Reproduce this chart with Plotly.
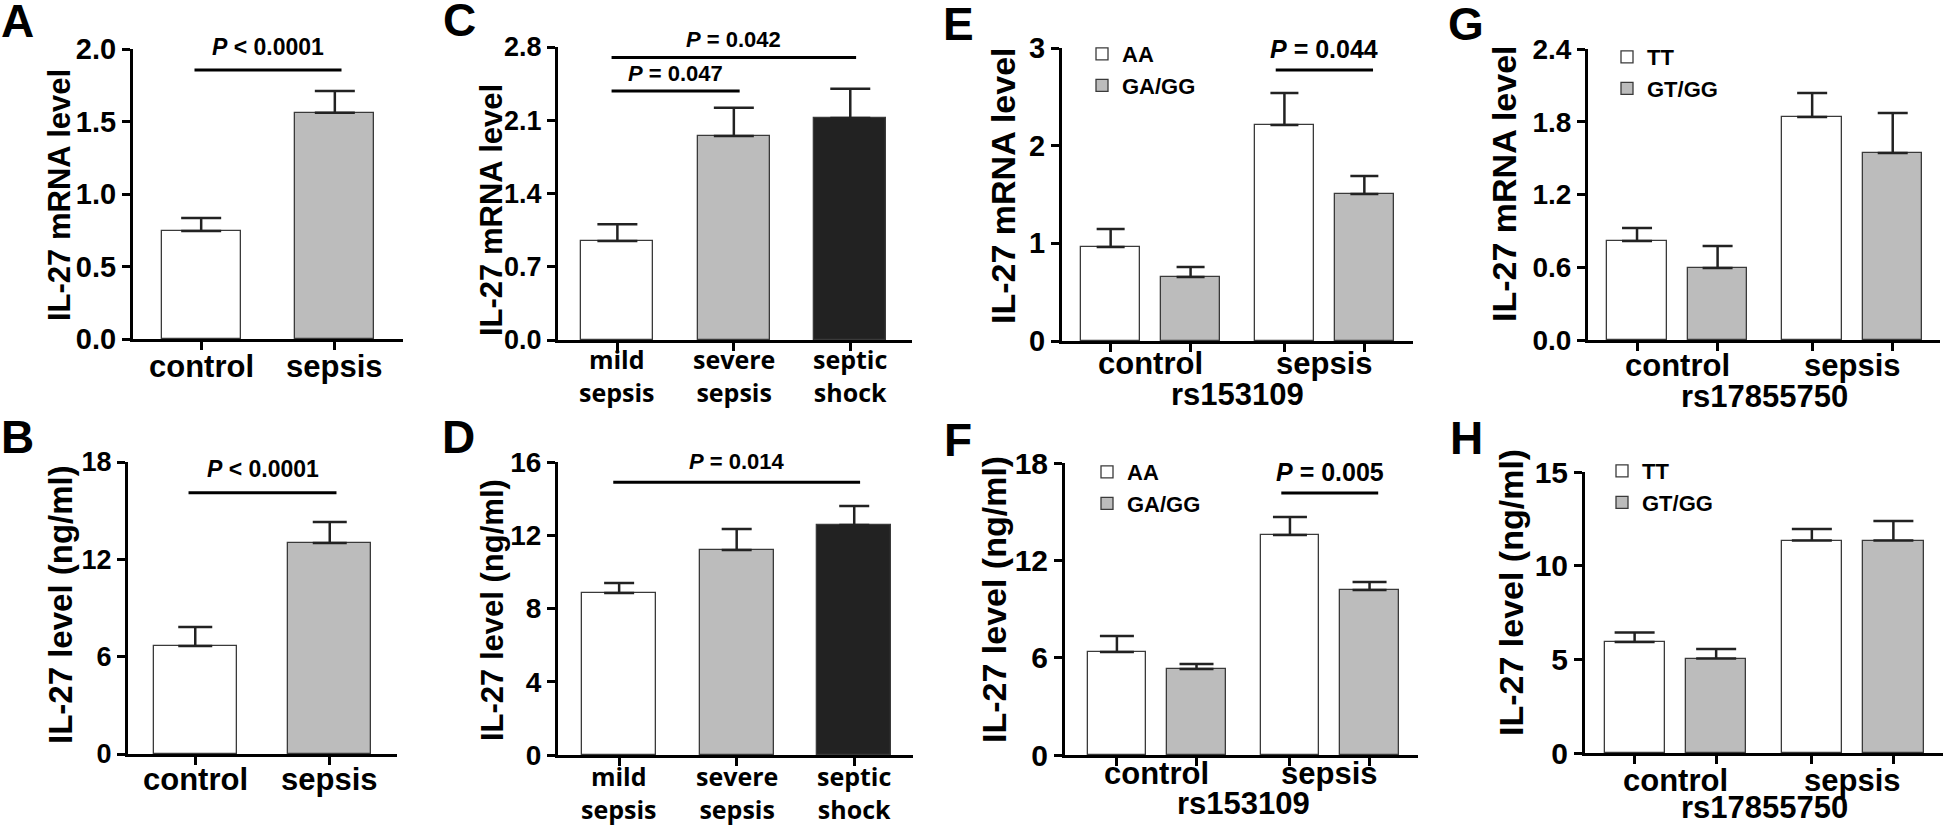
import plotly.graph_objects as go

W, H = 1946, 825
ARIAL = "Liberation Sans, Arial, sans-serif"
SEGOE = "Open Sans, DejaVu Sans, sans-serif"
WHITE, GREY, DARK = "#ffffff", "#bcbcbc", "#222222"

# ---- data ----
two_groups = ["control", "sepsis"]
severity = ["mild<br>sepsis", "severe<br>sepsis", "septic<br>shock"]

a_mean = [0.745, 1.56]
a_sem = [0.09, 0.15]
b_mean = [6.66, 13.0]
b_sem = [1.17, 1.30]
c_mean = [0.946, 1.949, 2.121]
c_sem = [0.16, 0.27, 0.28]
d_mean = [8.85, 11.19, 12.56]
d_sem = [0.54, 1.15, 1.04]

rs153109_geno = ["AA", "GA/GG"]
e_aa_mean = [0.962, 2.212]
e_aa_sem = [0.185, 0.327]
e_ga_mean = [0.655, 1.505]
e_ga_sem = [0.102, 0.185]
f_aa_mean = [6.35, 13.56]
f_aa_sem = [0.99, 1.11]
f_ga_mean = [5.30, 10.17]
f_ga_sem = [0.31, 0.49]

rs17855750_geno = ["TT", "GT/GG"]
g_tt_mean = [0.816, 1.839]
g_tt_sem = [0.108, 0.198]
g_gt_mean = [0.594, 1.542]
g_gt_sem = [0.181, 0.330]
h_tt_mean = [5.92, 11.34]
h_tt_sem = [0.51, 0.62]
h_gt_mean = [5.04, 11.34]
h_gt_sem = [0.51, 1.04]

# significance brackets: (label, from category, to category, height)
a_sig = [("<i>P</i> &lt; 0.0001", 0, 1, 1.855)]
b_sig = [("<i>P</i> &lt; 0.0001", 0, 1, 16.1)]
c_sig = [("<i>P</i> = 0.047", 0, 1, 2.38), ("<i>P</i> = 0.042", 0, 2, 2.70)]
d_sig = [("<i>P</i> = 0.014", 0, 2, 14.9)]
e_sig = [("<i>P</i> = 0.044", 0.77, 1.23, 2.775)]
f_sig = [("<i>P</i> = 0.005", 0.77, 1.23, 16.15)]

fig = go.Figure()
annotations = []


def axis_names(n):
    return ("x" if n == 1 else f"x{n}"), ("y" if n == 1 else f"y{n}")


def bold(family, size):
    return dict(family=family, size=size, color="black", weight="bold")


def setup_axes(n, box, xr, ymax, dtick, fmt, tick_size):
    x0, x1, ytop, ybot = box
    common = dict(showgrid=False, zeroline=False, showline=True, linecolor="black", automargin=False,
                  linewidth=3, ticks="outside", ticklen=8, tickwidth=3, tickcolor="black")
    fig.layout[f"xaxis{n}"] = dict(domain=[x0 / W, x1 / W], range=list(xr), showticklabels=False,
                                   anchor=axis_names(n)[1], **common)
    fig.layout[f"yaxis{n}"] = dict(domain=[1 - ybot / H, 1 - ytop / H], range=[0, ymax],
                                   anchor=axis_names(n)[0], dtick=dtick, tickformat=fmt,
                                   tickfont=bold(ARIAL, tick_size), **common)


def err(sem, cap):
    return dict(type="data", array=sem, arrayminus=[0] * len(sem), symmetric=False,
                width=cap, thickness=2.5, color=DARK)


def add_brackets(n, sigs, size, gap):
    xa, ya = axis_names(n)
    for label, c0, c1, yv in sigs:
        fig.add_trace(go.Scatter(x=[c0 - 0.05, c1 + 0.05], y=[yv, yv], mode="lines",
                                 line=dict(color="black", width=3), xaxis=xa, yaxis=ya,
                                 showlegend=False, hoverinfo="skip"))
        annotations.append(dict(x=(c0 + c1) / 2, y=yv, xref=xa, yref=ya, text=label,
                                showarrow=False, yanchor="bottom", yshift=gap, font=bold(ARIAL, size)))


def add_label(n, x, text, shift, font):
    xa, ya = axis_names(n)
    annotations.append(dict(x=x, y=0, xref=xa, yref=f"{ya} domain", text=text, showarrow=False,
                            xanchor="center", yanchor="middle", yshift=shift, font=font))


def add_title(text, xy, size):
    annotations.append(dict(x=xy[0] / W, y=1 - xy[1] / H, xref="paper", yref="paper", text=text,
                            textangle=-90, showarrow=False, xanchor="center", yanchor="middle",
                            font=bold(ARIAL, size)))


def add_letter(text, xy):
    annotations.append(dict(x=xy[0] / W, y=1 - xy[1] / H, xref="paper", yref="paper", text=text,
                            showarrow=False, xanchor="center", yanchor="middle", font=bold(ARIAL, 46)))


def single_panel(n, mean, sem, colors, width, cap):
    xa, ya = axis_names(n)
    pos = list(range(len(mean)))
    fig.add_trace(go.Bar(x=pos, y=mean, width=width, xaxis=xa, yaxis=ya, showlegend=False,
                         marker=dict(color=colors, line=dict(color="#3a3a3a", width=1.3)),
                         error_y=err(sem, cap)))
    fig.layout[f"xaxis{n}"].update(tickvals=pos)


def grouped_panel(n, genos, s1_mean, s1_sem, s2_mean, s2_sem, cap, legend, snp, shifts):
    xa, ya = axis_names(n)
    groups = list(range(len(two_groups)))
    pos1 = [g - 0.23 for g in groups]
    pos2 = [g + 0.23 for g in groups]
    for name, pos, mean, sem, col in [(genos[0], pos1, s1_mean, s1_sem, WHITE),
                                      (genos[1], pos2, s2_mean, s2_sem, GREY)]:
        fig.add_trace(go.Bar(x=pos, y=mean, width=0.34, name=name, xaxis=xa, yaxis=ya,
                             legend=legend,
                             marker=dict(color=col, line=dict(color="#3a3a3a", width=1.3)),
                             error_y=err(sem, cap)))
    fig.layout[f"xaxis{n}"].update(tickvals=sorted(pos1 + pos2))
    for g, name in zip(groups, two_groups):
        add_label(n, g, name, shifts[0], bold(ARIAL, 31))
    add_label(n, 0.5, snp, shifts[1], bold(ARIAL, 31))


# A
setup_axes(1, (133, 403, 49, 339), (-0.51, 1.51), 2.0, 0.5, ".1f", 29)
single_panel(1, a_mean, a_sem, [WHITE, GREY], 0.59, 20)
for i, name in enumerate(two_groups):
    add_label(1, i, name, -27, bold(ARIAL, 31))
add_brackets(1, a_sig, 23, 8)
add_title("IL-27 mRNA level", (60, 195), 31)
add_letter("A", (17, 21))

# B
setup_axes(2, (128, 397, 462, 754), (-0.5, 1.5), 18, 6, "d", 27)
single_panel(2, b_mean, b_sem, [WHITE, GREY], 0.62, 17)
for i, name in enumerate(two_groups):
    add_label(2, i, name, -25, bold(ARIAL, 31))
add_brackets(2, b_sig, 23, 9)
add_title("IL-27 level (ng/ml)", (60, 605), 33)
add_letter("B", (17, 437))

# C
setup_axes(3, (558, 912, 47, 340), (-0.51, 2.53), 2.8, 0.7, ".1f", 27)
single_panel(3, c_mean, c_sem, [WHITE, GREY, DARK], 0.62, 20)
for i, name in enumerate(severity):
    add_label(3, i, name, -35, bold(SEGOE, 25))
add_brackets(3, c_sig, 22, 3)
add_title("IL-27 mRNA level", (492, 210), 31)
add_letter("C", (459, 20))

# D
setup_axes(4, (558, 913, 462, 755), (-0.52, 2.5), 16, 4, "d", 28)
single_panel(4, d_mean, d_sem, [WHITE, GREY, DARK], 0.63, 15)
for i, name in enumerate(severity):
    add_label(4, i, name, -37, bold(SEGOE, 25))
add_brackets(4, d_sig, 22, 6)
add_title("IL-27 level (ng/ml)", (492, 610), 31)
add_letter("D", (458, 437))

# E
setup_axes(5, (1062, 1413, 48, 341), (-0.51, 1.51), 3, 1, "d", 29)
grouped_panel(5, rs153109_geno, e_aa_mean, e_aa_sem, e_ga_mean, e_ga_sem, 14, "legend",
              "rs153109", (-22, -53))
add_brackets(5, e_sig, 25, 5)
add_title("IL-27 mRNA level", (1003, 185), 34)
add_letter("E", (958, 24))

# F
setup_axes(6, (1065, 1418, 463, 755), (-0.53, 1.51), 18, 6, "d", 30)
grouped_panel(6, rs153109_geno, f_aa_mean, f_aa_sem, f_ga_mean, f_ga_sem, 17, "legend2",
              "rs153109", (-18, -48))
add_brackets(6, f_sig, 25, 5)
add_title("IL-27 level (ng/ml)", (994, 600), 34)
add_letter("F", (958, 440))

# G
setup_axes(7, (1588, 1940, 49, 340), (-0.51, 1.5), 2.4, 0.6, ".1f", 28)
grouped_panel(7, rs17855750_geno, g_tt_mean, g_tt_sem, g_gt_mean, g_gt_sem, 15, "legend3",
              "rs17855750", (-25, -56))
add_title("IL-27 mRNA level", (1504, 184), 34)
add_letter("G", (1466, 24))

# H
setup_axes(8, (1585, 1943, 472, 753), (-0.51, 1.51), 15, 5, "d", 30)
grouped_panel(8, rs17855750_geno, h_tt_mean, h_tt_sem, h_gt_mean, h_gt_sem, 20, "legend4",
              "rs17855750", (-27, -54))
add_title("IL-27 level (ng/ml)", (1511, 593), 34)
add_letter("H", (1466, 438))


def legend_at(left, top):
    return dict(x=left / W, y=1 - top / H, xanchor="left", yanchor="top", bgcolor="rgba(0,0,0,0)",
                font=bold(ARIAL, 22), tracegroupgap=0, itemclick=False, itemdoubleclick=False)


fig.update_layout(
    template="none",
    width=W, height=H, margin=dict(l=0, r=0, t=0, b=0, autoexpand=False),
    paper_bgcolor="white", plot_bgcolor="rgba(0,0,0,0)",
    bargap=0, annotations=annotations,
    legend=legend_at(1082, 33), legend2=legend_at(1087, 451),
    legend3=legend_at(1607, 36), legend4=legend_at(1602, 450),
)

fig.write_html("out.html", config={"displayModeBar": False},
               post_script="document.body.style.margin = '0px';")
